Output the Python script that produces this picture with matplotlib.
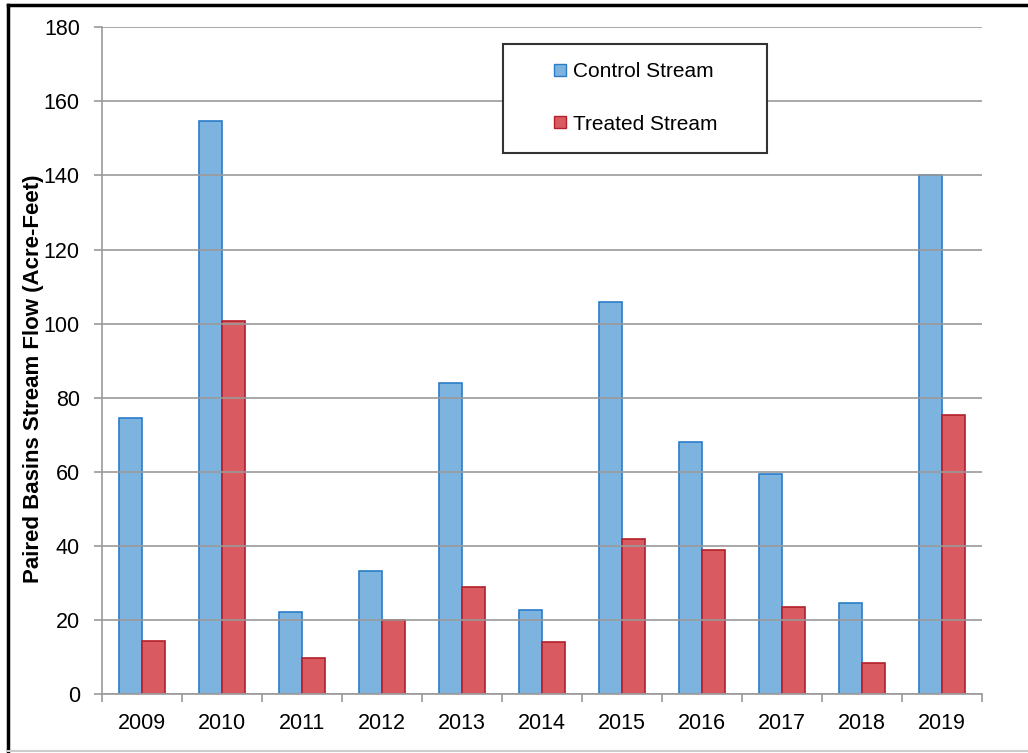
import numpy as np
import matplotlib.pyplot as plt
from matplotlib.patches import Rectangle
from matplotlib.lines import Line2D

plt.rcParams['font.family'] = ['Liberation Sans', 'DejaVu Sans']

years = ["2009", "2010", "2011", "2012", "2013", "2014", "2015", "2016", "2017", "2018", "2019"]
control = [74.6, 154.6, 22.2, 33.2, 84.0, 22.7, 105.7, 68.1, 59.5, 24.6, 140.0]
treated = [14.3, 100.8, 9.7, 20.0, 28.9, 14.0, 41.9, 38.9, 23.5, 8.4, 75.4]

BLUE_FILL = "#7db4df"
BLUE_EDGE = "#2a7cc7"
RED_FILL = "#d95b61"
RED_EDGE = "#b3202a"
GRID = "#9a9a9a"

W, H = 1028, 753
fig = plt.figure(figsize=(W / 100, H / 100), dpi=100)
ax = fig.add_axes([102 / W, 1 - 694 / H, (982 - 102) / W, (694 - 27.3) / H])

x = np.arange(len(years))
bw = 0.29
ax.bar(x - bw / 2, control, bw, color=BLUE_FILL, edgecolor=BLUE_EDGE, linewidth=1.2, zorder=2)
ax.bar(x + bw / 2, treated, bw, color=RED_FILL, edgecolor=RED_EDGE, linewidth=1.2, zorder=2)

ax.set_xlim(-0.5, len(years) - 0.5)
ax.set_ylim(0, 180)
ax.set_yticks(np.arange(0, 181, 20))
ax.yaxis.grid(True, color=GRID, linewidth=1.2, zorder=3)
ax.set_axisbelow(False)

# category labels centred, tick marks between categories
ax.set_xticks(x)
ax.set_xticklabels(years)
ax.tick_params(axis='x', length=0, labelsize=15.5, pad=14)
ax.set_xticks(np.arange(-0.5, len(years)), minor=True)
ax.tick_params(axis='x', which='minor', length=6, width=1.2, color=GRID, direction='out')
ax.tick_params(axis='y', length=6, width=1.2, color=GRID, labelsize=15.5, pad=10)

for s in ['top', 'right']:
    ax.spines[s].set_visible(False)
for s in ['left', 'bottom']:
    ax.spines[s].set_color(GRID)
    ax.spines[s].set_linewidth(1.2)

fig.text(34 / W, 1 - 379 / H, "Paired Basins Stream Flow (Acre-Feet)", rotation=90,
         ha='center', va='center', fontsize=16, fontweight='bold')

# legend box
fig.add_artist(Rectangle((503 / W, 1 - 153 / H), (767 - 503) / W, (153 - 44) / H,
                         transform=fig.transFigure, facecolor='white', edgecolor='#333333',
                         linewidth=1.5, zorder=5))
handles = [
    Line2D([], [], linestyle='none', marker='s', markersize=9, markerfacecolor=BLUE_FILL, markeredgecolor=BLUE_EDGE),
    Line2D([], [], linestyle='none', marker='s', markersize=9, markerfacecolor=RED_FILL, markeredgecolor=RED_EDGE),
]
leg = fig.legend(handles, ["Control Stream", "Treated Stream"], loc='center',
                 bbox_to_anchor=(635 / W, 1 - 98 / H), frameon=False, fontsize=15,
                 handlelength=0.7, handletextpad=0.3, labelspacing=1.6)
leg.set_zorder(6)

# outer frame
fig.add_artist(Line2D([8 / W, 8 / W], [1 - 5 / H, 1 - 751 / H], transform=fig.transFigure, color='black', linewidth=2.5))
fig.add_artist(Line2D([8 / W, 1.0], [1 - 5 / H, 1 - 5 / H], transform=fig.transFigure, color='black', linewidth=2.5))
fig.add_artist(Line2D([8 / W, 1.0], [1 - 751 / H, 1 - 751 / H], transform=fig.transFigure, color='#cccccc', linewidth=1.5))

fig.savefig("out.png", dpi=100)
